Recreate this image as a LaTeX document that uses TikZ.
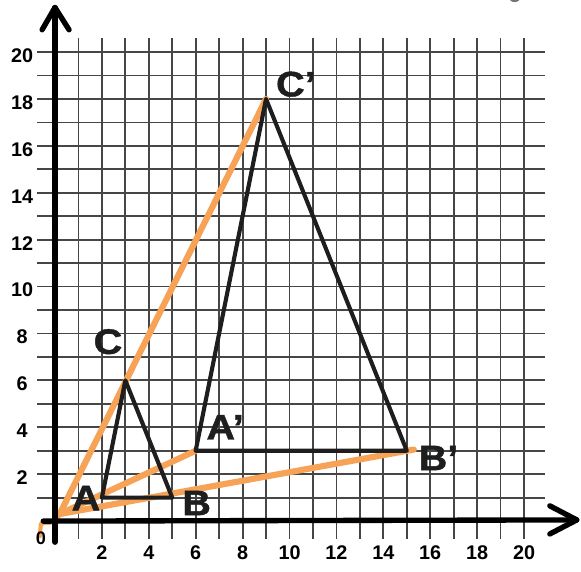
\documentclass[tikz,border=0pt]{standalone}
\usepackage{fontspec}
\setmainfont{Liberation Sans}
\newfontfamily\lblfont[FakeStretch=1.12,FakeBold=1.2]{Liberation Sans}
\definecolor{orangeray}{RGB}{246,163,88}
\definecolor{gridgray}{RGB}{70,70,70}
\definecolor{triblack}{RGB}{30,30,30}
\begin{document}
\begin{tikzpicture}[x=1cm,y=1cm,
 gridline/.style={draw=gridgray, line width=2.2pt},
 axisline/.style={draw=black, line width=6.5pt, line cap=round, line join=round},
 tri/.style={draw=triblack, line width=5pt, line join=round, line cap=round},
 ray/.style={draw=orangeray, line width=7.5pt, line cap=round, line join=round},
 ticklbl/.style={font=\fontsize{24}{24}\selectfont\bfseries, inner sep=0pt},
 ptlbl/.style={font=\lblfont\fontsize{43}{43}\selectfont\bfseries, inner sep=0pt, text=triblack}
]
\useasboundingbox (-2.345,-2.13) rectangle (22.43,22.22);
% grid
\foreach \i in {1,...,20} {
  \draw[gridline] (\i,-0.75) -- (\i,20.6);
  \draw[gridline] (-0.75,\i) -- (20.9,\i);
}
% points
\coordinate (O) at (0.2,0.3);
\coordinate (A) at (2,1);
\coordinate (B) at (5,1);
\coordinate (C) at (3,6);
\coordinate (Ap) at (6,3);
\coordinate (Bp) at (15,3);
\coordinate (Cp) at (9,18);
\coordinate (Bpe) at (15.3,3.05);
\coordinate (h1) at (0.05,-0.05);
\coordinate (h2) at (-0.6,-0.1);
\coordinate (h3) at (-0.65,-0.65);
% orange rays
\draw[ray] (O) -- (Cp);
\draw[ray] (O) -- (Ap);
\draw[ray] (O) -- (Bpe);
\draw[ray, line width=5pt] (O) -- (h1) -- (h2) -- (h3);
% axes
\coordinate (yb) at (0,-0.9);
\coordinate (yt) at (0,21.9);
\coordinate (yw1) at (-0.55,20.95);
\coordinate (yw2) at (0.6,20.95);
\coordinate (xl) at (-0.5,0);
\coordinate (xr) at (22.25,0.05);
\coordinate (xw1) at (21.1,0.65);
\coordinate (xw2) at (21.1,-0.55);
\draw[axisline] (yb) -- (yt);
\draw[axisline] (yw1) -- (yt) -- (yw2);
\draw[axisline] (xl) -- (xr);
\draw[axisline] (xw1) -- (xr) -- (xw2);
% triangles
\draw[tri] (A) -- (B) -- (C) -- cycle;
\draw[tri] (Ap) -- (Bp) -- (Cp) -- cycle;
% labels
\node[ptlbl] (lA) at (1.32,0.98) {A};
\node[ptlbl] (lB) at (6.04,0.77) {B};
\node[ptlbl] (lC) at (2.26,7.65) {C};
\node[ptlbl, anchor=west] (lAp) at (6.45,4.0) {A’};
\node[ptlbl, anchor=west] (lBp) at (15.5,2.69) {B’};
\node[ptlbl, anchor=west] (lCp) at (9.42,18.63) {C’};
% tick labels
\foreach \v in {2,4,...,20} {
  \node[ticklbl] (ylab\v) at (-1.4,\v-0.15) {\v};
  \node[ticklbl] (xlab\v) at (\v,-1.36) {\v};
}
\node[ticklbl, font=\fontsize{22}{22}\selectfont\bfseries] (zlab) at (-0.6,-0.72) {0};
% smudge at top edge
\fill[black!55] (19.6,22.35) ellipse (0.25 and 0.22);
\end{tikzpicture}
\end{document}
